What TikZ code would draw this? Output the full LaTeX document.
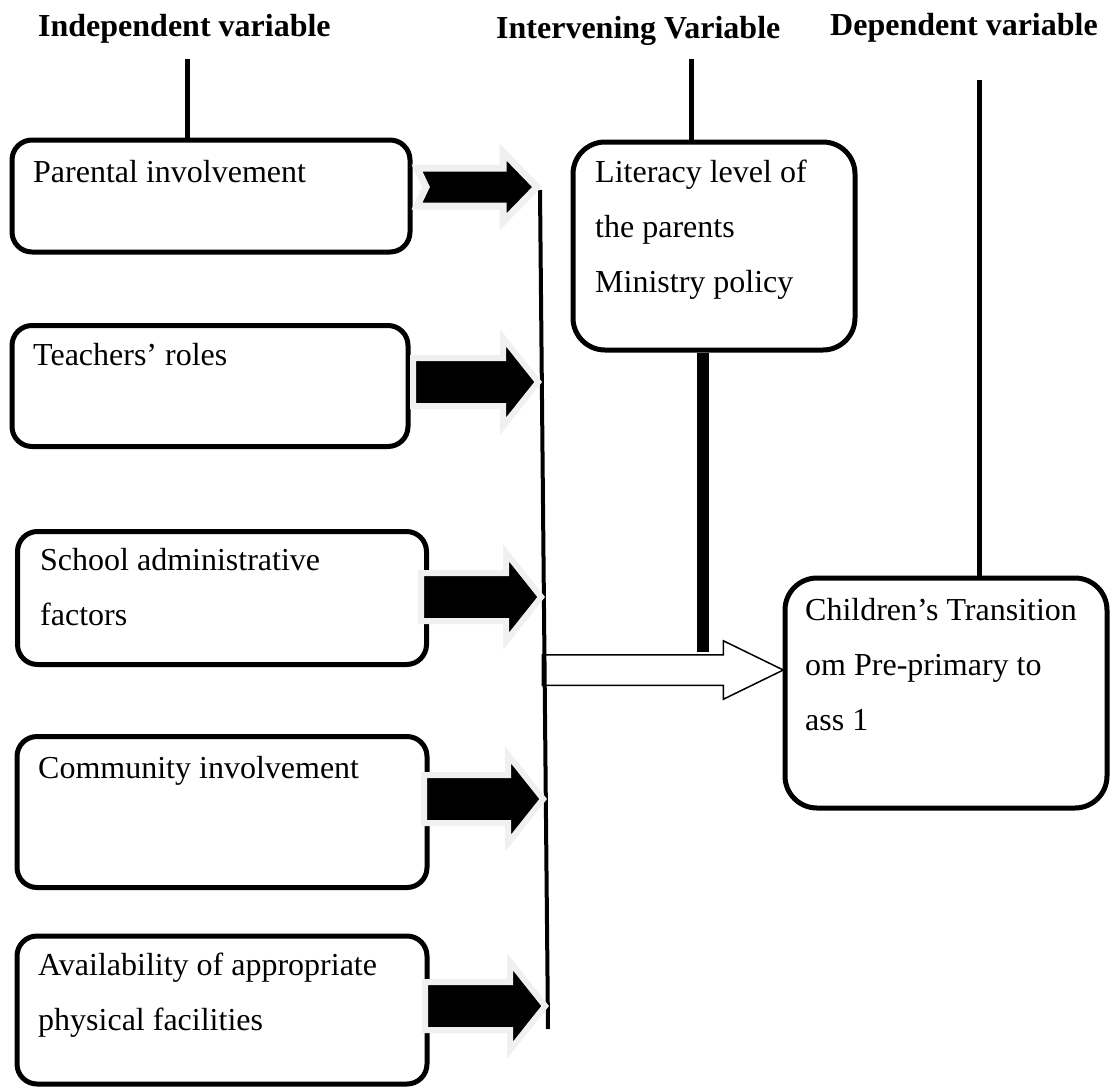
\documentclass[tikz,border=0pt]{standalone}
\usepackage{fontspec}
\setmainfont{Liberation Serif}
\usetikzlibrary{shapes.arrows,positioning}
\definecolor{halo}{gray}{0.94}
\tikzset{
    box/.style={draw, rounded corners=20pt, line width=5pt},
    bigbox/.style={box, rounded corners=32pt},
    txt/.style={anchor=north west, inner sep=0pt, align=left, font=\fontsize{32}{55}\selectfont},
    hdr/.style={anchor=base west, inner sep=0pt, font=\fontsize{32}{38}\selectfont\bfseries},
    stem/.style={line width=5pt},
    blk/.style={single arrow, fill=black, draw=halo, line width=6pt, inner xsep=0pt, inner ysep=21pt,
        single arrow head extend=20pt, single arrow tip angle=103, anchor=tip},
}

\begin{document}
\begin{tikzpicture}[x=1pt, y=-1pt]
    \useasboundingbox (0,0) rectangle (1112,1088);
    \node[hdr] (hdindep) at (38,36) {Independent variable};
    \node[hdr] (hdinterv) at (496,38) {Intervening Variable};
    \node[hdr] (hddep) at (830,35) {Dependent variable};

    \node[box, minimum width=398pt, minimum height=112pt] (parental) at (211,196) {};
    \node[box, minimum width=396pt, minimum height=121pt] (teachers) at (210,386) {};
    \node[box, minimum width=409pt, minimum height=133pt] (school) at (222,598) {};
    \node[box, minimum width=410pt, minimum height=151pt] (community) at (222,812) {};
    \node[box, minimum width=410pt, minimum height=148pt] (facilities) at (222,1010) {};
    \node[bigbox, minimum width=282pt, minimum height=208pt] (interv) at (714,246) {};
    \node[bigbox, minimum width=322pt, minimum height=230pt] (dependent) at (946,693) {};

    \node[txt] (parentaltxt) at (33,160) {Parental involvement};
    \node[txt] (teacherstxt) at (33,343) {Teachers’ roles};
    \node[txt] (schooltxt) at (40,548) {School administrative\\factors};
    \node[txt] (communitytxt) at (38,756) {Community involvement};
    \node[txt] (facilitiestxt) at (38,953) {Availability of appropriate\\physical facilities};
    \node[txt] (intervtxt) at (595,160) {Literacy level of\\the parents\\Ministry policy};
    \node[txt] (dependenttxt) at (805,598) {Children’s Transition\\om Pre-primary to\\ass 1};

    \coordinate (indeptop) at (187,59);
    \coordinate (intervtop) at (691,59);
    \coordinate (deptop) at (979,80);
    \draw[stem] (indeptop) -- (indeptop |- parental.north);
    \draw[stem] (intervtop) -- (intervtop |- interv.north);
    \draw[stem] (deptop) -- (deptop |- dependent.north);

    \coordinate (barbot) at (703,652);
    \draw[line width=12pt] (barbot |- interv.south) -- (barbot);

    \coordinate (deptip) at (785,670);
    \node[single arrow, draw, fill=white, line width=1.5pt, inner xsep=0pt, inner ysep=14.5pt,
        single arrow head extend=14pt, single arrow tip angle=52, minimum height=241pt,
        anchor=tip] (transarrow) at (deptip) {};

    \coordinate (bustop) at (540,190);
    \coordinate (busbot) at (548,1029);
    \draw[line width=4pt] (bustop) -- (busbot);

    \coordinate (tip1) at (537,187);
    \coordinate (tip2) at (542,382);
    \coordinate (tip3) at (545,597);
    \coordinate (tip4) at (547,799);
    \coordinate (tip5) at (549,1006);
    \draw[fill=black, draw=halo, line width=7pt, line join=miter] (tip1) -- ++(-34,35) -- ++(0,-16)
        -- ++(-86,0) -- ++(9,-19) -- ++(-9,-19) -- ++(86,0) -- ++(0,-16) -- cycle;
    \node[blk, minimum height=125pt] (teachersarrow) at (tip2) {};
    \node[blk, minimum height=120pt] (schoolarrow) at (tip3) {};
    \node[blk, minimum height=119pt] (communityarrow) at (tip4) {};
    \node[blk, minimum height=120pt] (facilitiesarrow) at (tip5) {};
\end{tikzpicture}
\end{document}
